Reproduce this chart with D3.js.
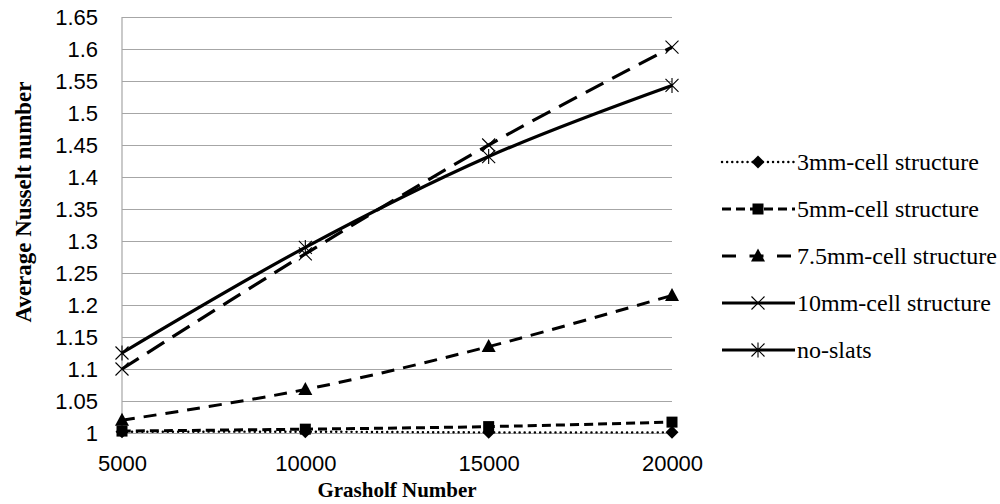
<!DOCTYPE html>
<html>
<head>
<meta charset="utf-8">
<script src="https://cdnjs.cloudflare.com/ajax/libs/d3/7.8.5/d3.min.js"></script>
<style>
  body { margin: 0; background: #fff; }
  .tick text { font-family: "Liberation Sans", Arial, sans-serif; font-size: 22px; fill: #000; }
  .title { font-family: "Liberation Serif", "Times New Roman", serif; font-weight: bold; font-size: 21px; }
  .legend text { font-family: "Liberation Serif", "Times New Roman", serif; font-size: 24px; }
</style>
</head>
<body>
<svg width="1000" height="504"></svg>
<script>
// grashof numbers on the x axis
const grashof = [5000, 10000, 15000, 20000]
const yTicks = [1, 1.05, 1.1, 1.15, 1.2, 1.25, 1.3, 1.35, 1.4, 1.45, 1.5, 1.55, 1.6, 1.65]

const names = ['3mm-cell structure', '5mm-cell structure', '7.5mm-cell structure', '10mm-cell structure', 'no-slats']
const nu3mm = [1.002, 1.002, 1.001, 1.001]
const nu5mm = [1.003, 1.006, 1.010, 1.017]
const nu75mm = [1.020, 1.068, 1.135, 1.215]
const nu10mm = [1.100, 1.280, 1.450, 1.603]
const nuNoSlats = [1.125, 1.290, 1.432, 1.543]

const svg = d3.select('svg')
const pl = 122, pr = 672, pt = 17, pb = 433

const x = d3.scalePoint().domain(grashof).range([pl, pr])
const y = d3.scaleLinear().domain([1, 1.65]).range([pb, pt])

// styles: plot dash, legend dash (legend in the original doesn't match the plot)
const styles = [
  { dash: '0.1 5', cap: 'round', w: 2.4, ldash: '0.1 5', lcap: 'round', marker: 'diamond' },
  { dash: '9 5', cap: 'butt', w: 3, ldash: '9 5', lcap: 'butt', marker: 'square' },
  { dash: '13 9', cap: 'butt', w: 3, ldash: '14 13.5', lcap: 'butt', marker: 'triangle' },
  { dash: '20 10', cap: 'butt', w: 3.2, ldash: null, lcap: 'butt', marker: 'cross' },
  { dash: null, cap: 'butt', w: 3.2, ldash: null, lcap: 'butt', marker: 'star' }
]
const series = [nu3mm, nu5mm, nu75mm, nu10mm, nuNoSlats]

// grid
svg.append('g')
  .attr('transform', `translate(${pl},0)`)
  .call(d3.axisLeft(y).tickValues(yTicks).tickSize(-(pr - pl)).tickPadding(24).tickFormat(d => String(+d.toFixed(2))))
  .call(g => g.select('.domain').remove())
  .call(g => g.selectAll('.tick line').attr('stroke', '#a6a6a6').attr('stroke-width', 1.2))

svg.append('line')
  .attr('x1', pl).attr('x2', pl).attr('y1', pt).attr('y2', pb)
  .attr('stroke', '#a6a6a6').attr('stroke-width', 1.2)

svg.append('g')
  .attr('transform', `translate(0,${pb})`)
  .call(d3.axisBottom(x).tickSize(0).tickPadding(22))
  .call(g => g.select('.domain').remove())

function drawMarker(g, type, cx, cy) {
  if (type === 'diamond') {
    g.append('path').attr('d', `M${cx},${cy - 6.5}L${cx + 6.5},${cy}L${cx},${cy + 6.5}L${cx - 6.5},${cy}Z`).attr('fill', '#000')
  } else if (type === 'square') {
    g.append('rect').attr('x', cx - 5.5).attr('y', cy - 5.5).attr('width', 11).attr('height', 11).attr('fill', '#000')
  } else if (type === 'triangle') {
    g.append('path').attr('d', `M${cx},${cy - 7.5}L${cx + 7},${cy + 5.5}L${cx - 7},${cy + 5.5}Z`).attr('fill', '#000')
  } else if (type === 'cross') {
    g.append('path').attr('d', `M${cx - 6.5},${cy - 6.5}L${cx + 6.5},${cy + 6.5}M${cx + 6.5},${cy - 6.5}L${cx - 6.5},${cy + 6.5}`)
      .attr('stroke', '#000').attr('stroke-width', 1.1)
  } else {
    g.append('path').attr('d', `M${cx - 6.5},${cy - 6.5}L${cx + 6.5},${cy + 6.5}M${cx + 6.5},${cy - 6.5}L${cx - 6.5},${cy + 6.5}M${cx},${cy - 7.5}L${cx},${cy + 7.5}`)
      .attr('stroke', '#000').attr('stroke-width', 1.1)
  }
}

const line = d3.line()
  .x((d, i) => x(grashof[i]))
  .y(d => y(d))
  .curve(d3.curveCatmullRom.alpha(0))

const plot = svg.append('g')
series.forEach((vals, k) => {
  const s = styles[k]
  plot.append('path')
    .datum(vals)
    .attr('d', line)
    .attr('fill', 'none')
    .attr('stroke', '#000')
    .attr('stroke-width', s.w)
    .attr('stroke-linecap', s.cap)
    .attr('stroke-dasharray', s.dash)
  vals.forEach((v, i) => drawMarker(plot, s.marker, x(grashof[i]), y(v)))
})

// legend
const legend = svg.append('g').attr('class', 'legend')
names.forEach((name, k) => {
  const s = styles[k]
  const ly = 162 + k * 47
  const row = legend.append('g')
  row.append('line')
    .attr('x1', 722).attr('x2', 795).attr('y1', ly).attr('y2', ly)
    .attr('stroke', '#000').attr('stroke-width', s.w)
    .attr('stroke-linecap', s.lcap)
    .attr('stroke-dasharray', s.ldash)
  drawMarker(row, s.marker, 758, ly)
  row.append('text').attr('x', 797).attr('y', ly).attr('dy', '0.33em').text(name)
})

svg.append('text').attr('class', 'title')
  .attr('x', 397).attr('y', 497).attr('text-anchor', 'middle')
  .text('Grasholf Number')

svg.append('text').attr('class', 'title')
  .style('font-size', '23px')
  .attr('transform', 'translate(31,202) rotate(-90)')
  .attr('text-anchor', 'middle')
  .text('Average Nusselt number')
</script>
</body>
</html>
